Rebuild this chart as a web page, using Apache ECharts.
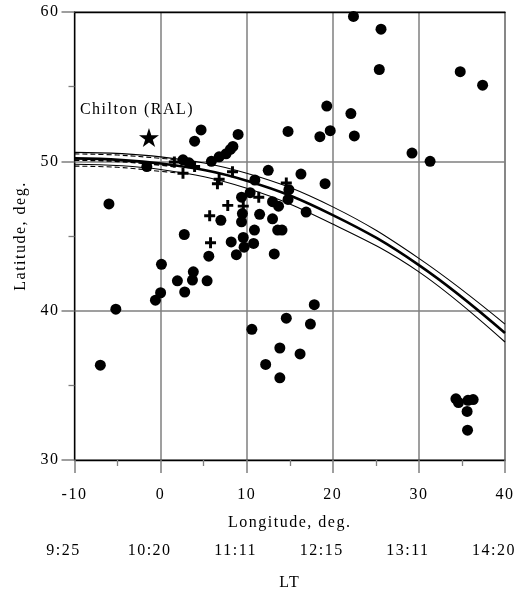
<!DOCTYPE html>
<html><head><meta charset="utf-8">
<script src="https://cdn.jsdelivr.net/npm/echarts@6/dist/echarts.min.js"></script>
<style>html,body{margin:0;padding:0;background:#fff}#c{width:522px;height:593px}</style>
</head><body><div id="c"></div>
<script>
// ---- data ----
const lonTicks = [-10, 0, 10, 20, 30, 40];
const ltLabels = ['9:25', '10:20', '11:11', '12:15', '13:11', '14:20'];
const latTicks = [30, 40, 50, 60];

// station points (lon, lat) – filled circles
const dotLon = [-6.0,-1.6,4.7,3.95,2.6,3.3,5.9,6.8,7.6,8.1,8.4,9.0,14.8,18.5,19.7,19.3,22.1,22.5,25.4,25.6,22.4,34.8,37.4,29.2,31.3,
  12.5,16.3,19.1,10.95,14.9,10.4,9.4,13.0,14.8,13.7,16.9,11.5,13.0,9.5,9.4,7.0,10.9,13.6,14.1,2.75,9.6,8.2,10.8,9.7,8.8,5.6,13.2,
  0.1,3.8,3.7,1.95,5.4,0.0,2.8,-0.6,-5.2,-7.0,17.85,14.6,17.4,10.6,13.85,16.2,12.2,13.85,34.3,34.6,35.7,36.3,35.6,35.65];
const dotLat = [47.15,49.65,52.1,51.35,50.1,49.9,50.0,50.3,50.5,50.8,51.0,51.8,52.0,51.65,52.05,53.7,53.2,51.7,56.15,58.85,59.7,56.0,55.1,50.55,50.0,
  49.4,49.15,48.5,48.75,48.1,47.9,47.6,47.3,47.45,47.0,46.6,46.45,46.15,46.5,45.95,46.05,45.4,45.4,45.4,45.1,44.9,44.6,44.5,44.25,43.75,43.65,43.8,
  43.1,42.6,42.05,42.0,42.0,41.2,41.25,40.7,40.1,36.35,40.4,39.5,39.1,38.75,37.5,37.1,36.4,35.5,34.1,33.85,34.0,34.05,33.25,32.0];

// crosses
const crossLon = [1.6,2.6,3.95,8.35,6.8,6.6,7.8,9.6,11.4,5.7,5.8,14.6];
const crossLat = [49.95,49.2,49.65,49.3,48.8,48.5,47.05,47.0,47.6,46.35,44.55,48.55];

// Chilton (RAL)
const stationName = 'Chilton (RAL)';
const stationLon = -1.35, stationLat = 51.6;

// curves
const curveLon = [-10, 0, 10, 20, 30, 40];
const curveMid = [50.2, 49.85, 48.7, 46.4, 43.05, 38.5];
const curveUp  = [50.6, 50.3, 49.2, 46.95, 43.5, 39.1];
const curveLow = [49.8, 49.45, 48.2, 45.8, 42.6, 37.9];
const dashLon  = [-10, -5, 0, 2];
const dashUp   = [50.5, 50.42, 50.2, 50.1];
const dashMid  = [50.08, 50.0, 49.75, 49.62];
const dashLow  = [49.68, 49.6, 49.33, 49.22];

// letter spacing for the wide-tracked serif text of the original
(function () {
  const d = Object.getOwnPropertyDescriptor(CanvasRenderingContext2D.prototype, 'font');
  if (d && d.set && 'letterSpacing' in CanvasRenderingContext2D.prototype) {
    Object.defineProperty(CanvasRenderingContext2D.prototype, 'font', {
      configurable: true,
      get() { return d.get.call(this); },
      set(v) { d.set.call(this, v); this.letterSpacing = '1.5px'; }
    });
  }
})();

// ---- chart ----
const pair = (xs, ys) => xs.map((x, i) => [x, ys[i]]);
const font = 'Liberation Serif';
const chart = echarts.init(document.getElementById('c'), null, {renderer: 'canvas'});
const plusPath = 'path://M3.3,0H5.7V3.3H9V5.7H5.7V9H3.3V5.7H0V3.3H3.3Z';
const starPath = 'path://M50,0L61.2,34.55L97.55,34.55L68.2,55.9L79.4,90.45L50,69.1L20.6,90.45L31.8,55.9L2.45,34.55L38.8,34.55Z';
const gridCol = '#7f7f7f';

function curve(xs, ys, w, dashed) {
  return {type: 'line', data: pair(xs, ys), smooth: 0.4, symbol: 'none', silent: true,
    lineStyle: {color: '#000', width: w, type: dashed ? [5, 3] : 'solid'}, z: 3};
}

chart.setOption({
  animation: false,
  grid: {left: 74.5, right: 17, top: 12, bottom: 133, containLabel: false, outerBoundsMode: 'none'},
  xAxis: [
    {type: 'value', min: -10, max: 40, interval: 10, position: 'bottom',
     name: 'Longitude, deg.', nameLocation: 'middle', nameGap: 54,
     nameTextStyle: {fontFamily: font, fontSize: 16, color: '#000'},
     axisLine: {show: true, onZero: false, lineStyle: {color: '#000', width: 1.3}},
     axisTick: {show: true, inside: false, length: 13, lineStyle: {color: gridCol, width: 1.5}},
     minorTick: {show: true, splitNumber: 2, length: 6, lineStyle: {color: gridCol, width: 1.3}},
     splitLine: {show: true, lineStyle: {color: gridCol, width: 1.5}},
     axisLabel: {fontFamily: font, fontSize: 16, color: '#000', margin: 26,
       formatter: v => String(v)}},
    {type: 'value', min: -10, max: 40, interval: 10, position: 'bottom',
     name: 'LT', nameLocation: 'middle', nameGap: 114,
     nameTextStyle: {fontFamily: font, fontSize: 16, color: '#000'},
     axisLine: {show: false}, axisTick: {show: false}, splitLine: {show: false},
     axisLabel: {fontFamily: font, fontSize: 16, color: '#000', margin: 82, padding: [0, 22, 0, 0],
       formatter: v => ltLabels[lonTicks.indexOf(v)] || ''}},
    {type: 'value', min: -10, max: 40, position: 'top',
     axisLine: {show: true, onZero: false, lineStyle: {color: '#000', width: 1.3}},
     axisTick: {show: false}, axisLabel: {show: false}, splitLine: {show: false}}
  ],
  yAxis: [
    {type: 'value', min: 30, max: 60, interval: 10, position: 'left',
     name: 'Latitude, deg.', nameLocation: 'middle', nameGap: 44,
     nameTextStyle: {fontFamily: font, fontSize: 16, color: '#000'},
     axisLine: {show: true, onZero: false, lineStyle: {color: '#000', width: 1.3}},
     axisTick: {show: true, inside: false, length: 13, lineStyle: {color: gridCol, width: 1.5}},
     minorTick: {show: true, splitNumber: 2, length: 6, lineStyle: {color: gridCol, width: 1.3}},
     splitLine: {show: true, lineStyle: {color: gridCol, width: 1.5}},
     axisLabel: {fontFamily: font, fontSize: 16, color: '#000', margin: 15,
       formatter: v => latTicks.includes(v) ? String(v) : ''}},
    {type: 'value', min: 30, max: 60, position: 'right',
     axisLine: {show: true, onZero: false, lineStyle: {color: gridCol, width: 1.5}},
     axisTick: {show: false}, axisLabel: {show: false}, splitLine: {show: false}}
  ],
  series: [
    curve(curveLon, curveUp, 1.1, false),
    curve(curveLon, curveMid, 2.6, false),
    curve(curveLon, curveLow, 1.1, false),
    curve(dashLon, dashUp, 1.1, true),
    curve(dashLon, dashMid, 1.6, true),
    curve(dashLon, dashLow, 1.1, true),
    {type: 'scatter', data: pair(dotLon, dotLat), symbol: 'circle', symbolSize: 11,
     itemStyle: {color: '#000', opacity: 1}, z: 5},
    {type: 'scatter', data: pair(crossLon, crossLat), symbol: plusPath, symbolSize: 11,
     itemStyle: {color: '#000', opacity: 1}, z: 6},
    {type: 'scatter', data: [[stationLon, stationLat]], symbol: starPath, symbolSize: [20, 19],
     itemStyle: {color: '#000', opacity: 1}, z: 6,
     label: {show: true, formatter: stationName, position: 'top', offset: [-12, -4],
       fontFamily: font, fontSize: 16, color: '#000'}}
  ]
});
</script></body></html>
